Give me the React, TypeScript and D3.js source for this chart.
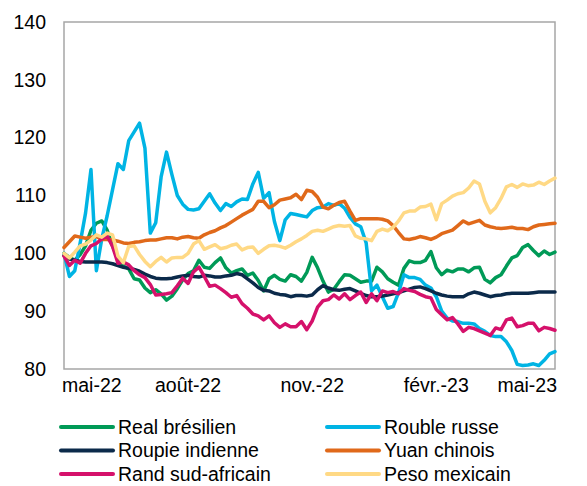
import * as d3 from "d3";

// observations every 4 days, index base 100 = early May 2022
const startDate = new Date(2022, 4, 1);
const stepDays = 4;

const real = [
  100, 99.3, 98.8, 99.8, 101.3, 104, 105.2, 105.6, 104, 101.3,
  99, 97.8, 97.3, 95.6, 95.4, 94, 93.2, 93.7, 93, 91.9,
  92.6, 93.9, 95.4, 96.5, 97, 98.8, 97.6, 97.4, 98.4, 99.2,
  97.5, 96.6, 97, 97.3, 96.2, 96.6, 95.3, 93.5, 95.6, 96.2,
  95.5, 95.2, 96.3, 96, 95.2, 96.7, 99.3, 97.5, 95.2, 93.3,
  93.8, 95.1, 96.3, 96.2, 95.6, 95, 95.2, 95.2, 97.6, 96.8,
  95.6, 95, 94.5, 97.4, 98.7, 98.4, 98.4, 98.8, 100.3, 97.5,
  96.3, 97.1, 96.8, 97.3, 97.3, 96.8, 97.5, 97.6, 95.5, 94.9,
  95.8, 96.3, 97.8, 99.2, 99.6, 101, 101.5, 100.5, 99.6, 100.4,
  99.8, 100.2,
];
const rouble = [
  100, 96, 97, 101.8, 107, 114.5, 97, 102.5, 106.5, 111,
  115.5, 114.5, 119.5, 121, 122.5, 118.2, 103.5, 105.3, 113.2, 117.5,
  113.6, 110, 108.5, 107.6, 107.5, 107.7, 109, 110.3, 108.7, 107.4,
  108.6, 108.1, 108.9, 109.4, 109.3, 112, 114, 109.5, 110.5, 105.5,
  102.2, 105.8, 106.9, 106.7, 106.5, 106.3, 107.4, 107.9, 108, 108.6,
  108.3, 108.6, 107.8, 106.2, 105.1, 104.6, 101.8, 93.5, 94.5, 92.5,
  90.5, 90.8, 93.2, 96.3, 95.8, 95.8, 95.5, 94.5, 94, 92.5,
  90, 88.8, 88.3, 88.2, 87.9, 87.9, 87.8, 87, 86.5, 85.8,
  85.6, 85.6, 84.7, 83.2, 80.8, 80.6, 80.7, 80.9, 80.6, 81.5,
  82.6, 83,
];
const roupie = [
  99.6, 99, 98.8, 98.6, 98.5, 98.5, 98.5, 98.5, 98.4, 98.2,
  97.9, 97.6, 97.4, 97.2, 96.9, 96.4, 96, 95.7, 95.6, 95.6,
  95.7, 95.9, 96.1, 96.2, 96, 95.9, 96.2, 96.1, 95.9, 95.9,
  96.1, 96.2, 96.5, 96.3, 95.6, 94.9, 94.1, 93.6, 93.5, 93.1,
  92.9, 92.8, 92.5, 92.7, 92.7, 92.6, 92.8, 93.7, 94.4, 94,
  93.7, 93.6, 93.8, 93.9, 93.5, 93.1, 92.7, 92.5, 92.5, 92.6,
  92.8, 93, 93.2, 93.5, 93.8, 94.1, 94.2, 93.9, 93.5, 93.1,
  92.8, 92.6, 92.5, 92.5, 92.5, 93, 93.3, 93.1, 92.8, 92.5,
  92.7, 92.8, 93, 93.1, 93.1, 93.1, 93.1, 93.2, 93.3, 93.3,
  93.3, 93.3,
];
const yuan = [
  101, 102, 103, 102.8, 102.6, 102.8, 102.9, 102.4, 102.4, 102.3,
  102.1, 101.8, 101.7, 101.9, 102, 102.2, 102.3, 102.3, 102.5, 102.7,
  102.7, 102.5, 102.8, 102.9, 102.7, 102.6, 103.2, 103.6, 103.9, 104.4,
  104.8, 105.4, 106, 106.6, 107.1, 107.6, 109, 109, 107.9, 108.4,
  109.2, 109.4, 109.6, 110.2, 109.3, 110.9, 110.7, 109.7, 108, 107.7,
  108.3, 108.8, 109, 107.3, 105.7, 106, 106, 106, 106, 105.9,
  105.6, 104.8, 103.6, 102.5, 102.4, 102.6, 102.9, 102.7, 102.4, 102.8,
  103.4, 103.7, 104, 104.8, 105.6, 105.1, 105.4, 105.7, 104.9, 104.6,
  104.4, 104.3, 104.4, 104.5, 104.3, 104.3, 104.1, 104.6, 104.9, 105,
  105.1, 105.2,
];
const rand = [
  99.5, 97.9, 98.8, 98.3, 100, 101.3, 101.7, 102.5, 103, 101.2,
  98.3, 98.5, 98, 97, 96.3, 95.8, 94.6, 92.8, 92.9, 93,
  93.2, 94.4, 95.7, 94.8, 96.8, 97.6, 96, 94.3, 94.5, 93.9,
  93.2, 92.4, 92.7, 91.3, 90.5, 89.5, 89.2, 88.5, 89.2, 88,
  87.2, 87.8, 87.3, 87.3, 88.2, 86.8, 88.3, 90.7, 91.8, 92,
  92.8, 92.1, 93, 92, 92.7, 93.3, 91.5, 93, 91.8, 93.5,
  93.2, 93.4, 93, 93.9, 93.6, 93.4, 92.9, 92.5, 92.3, 90.3,
  89.4, 88.5, 88.9, 87.8, 86.5, 87.2, 87, 86.6, 86.2, 85.8,
  87.1, 86.8, 88.5, 88.8, 87.3, 87.5, 87.9, 87.9, 86.6, 87.2,
  87, 86.7,
];
const peso = [
  100, 99.2, 100.2, 101.3, 101.6, 102.3, 103.2, 102.8, 103.5, 103.2,
  99.5, 98.4, 101.2, 101.3, 99.8, 98.6, 97.7, 98.6, 99.3, 98.5,
  99.2, 99.3, 99.3, 100, 101.6, 102.2, 100.7, 101.1, 101.5, 100.8,
  101, 101.4, 101.6, 100.6, 101, 101.1, 100, 100.7, 101.3, 101.4,
  101.2, 100.9, 101.4, 102, 102.5, 103.1, 103.8, 104, 103.8, 104.2,
  104.6, 104.8, 104.7, 104.8, 103, 102.6, 102.5, 102.2, 103.8, 104.2,
  103.9, 104.5, 105.6, 107, 107.3, 107.3, 108, 108.1, 108.5, 105.8,
  108.6, 109.2, 109.9, 110.3, 110.5, 111.3, 112.5, 112, 109, 107,
  107.9, 109.5, 111.5, 111.9, 111.4, 112, 111.7, 111.8, 112.3, 111.9,
  112.5, 113,
];

const seriesNames = ["Real brésilien", "Rouble russe", "Roupie indienne", "Yuan chinois", "Rand sud-africain", "Peso mexicain"];
const seriesValues = [real, rouble, roupie, yuan, rand, peso];
const seriesColors = ["#009a57", "#00b4e4", "#0b2a4a", "#e0691a", "#d5116b", "#ffd985"];

const yTicks = [80, 90, 100, 110, 120, 130, 140];
const xTickDates = [new Date(2022, 4, 1), new Date(2022, 7, 1), new Date(2022, 10, 1), new Date(2023, 1, 1), new Date(2023, 4, 1)];
const xTickLabels = ["mai-22", "août-22", "nov.-22", "févr.-23", "mai-23"];

const dates = real.map((_, i) => d3.timeDay.offset(startDate, i * stepDays));

export default function App() {
  const width = 587;
  const height = 486;
  const plot = { left: 64, right: 555, top: 22, bottom: 369 };
  const font = "'Liberation Sans', Arial, sans-serif";
  const fs = 19.5;

  const x = d3
    .scaleTime()
    .domain([startDate, dates[dates.length - 1]])
    .range([plot.left, plot.right]);
  const y = d3.scaleLinear().domain([80, 140]).range([plot.bottom, plot.top]);

  const line = d3
    .line<number>()
    .x((_, i) => x(dates[i]))
    .y((d) => y(d));

  return (
    <svg
      width={width}
      height={height}
      style={{ position: "absolute", left: 0, top: 0, background: "#fff" }}
      fontFamily={font}
    >
      <rect
        x={plot.left}
        y={plot.top}
        width={plot.right - plot.left}
        height={plot.bottom - plot.top}
        fill="none"
        stroke="#a6a6a6"
        strokeWidth={1.5}
      />
      {yTicks.map((t) => (
        <text key={t} x={46} y={y(t)} dy="0.35em" textAnchor="end" fontSize={fs} fill="#000">
          {t}
        </text>
      ))}
      {xTickDates.map((d, i) => {
        // end labels are kept inside the plot width, as the spreadsheet does
        const last = i === xTickDates.length - 1;
        const anchor = i === 0 ? "start" : last ? "end" : "middle";
        const px = i === 0 ? Math.max(x(d), plot.left) - 2 : last ? Math.min(x(d), plot.right) + 2 : x(d);
        return (
          <text key={i} x={px} y={392} textAnchor={anchor} fontSize={fs} fill="#000">
            {xTickLabels[i]}
          </text>
        );
      })}
      {seriesValues.map((vals, k) => (
        <path
          key={seriesNames[k]}
          d={line(vals) ?? ""}
          fill="none"
          stroke={seriesColors[k]}
          strokeWidth={3.5}
          strokeLinejoin="round"
          strokeLinecap="round"
        />
      ))}
      {seriesNames.map((name, k) => {
        const col = k % 2;
        const row = Math.floor(k / 2);
        const lx = col === 0 ? 61 : 327;
        const ly = 427 + row * 23.5;
        return (
          <g key={name}>
            <line x1={lx} x2={lx + 52} y1={ly} y2={ly} stroke={seriesColors[k]} strokeWidth={4} strokeLinecap="round" />
            <text x={lx + 57} y={ly} dy="0.35em" fontSize={fs} fill="#000">
              {name}
            </text>
          </g>
        );
      })}
    </svg>
  );
}
